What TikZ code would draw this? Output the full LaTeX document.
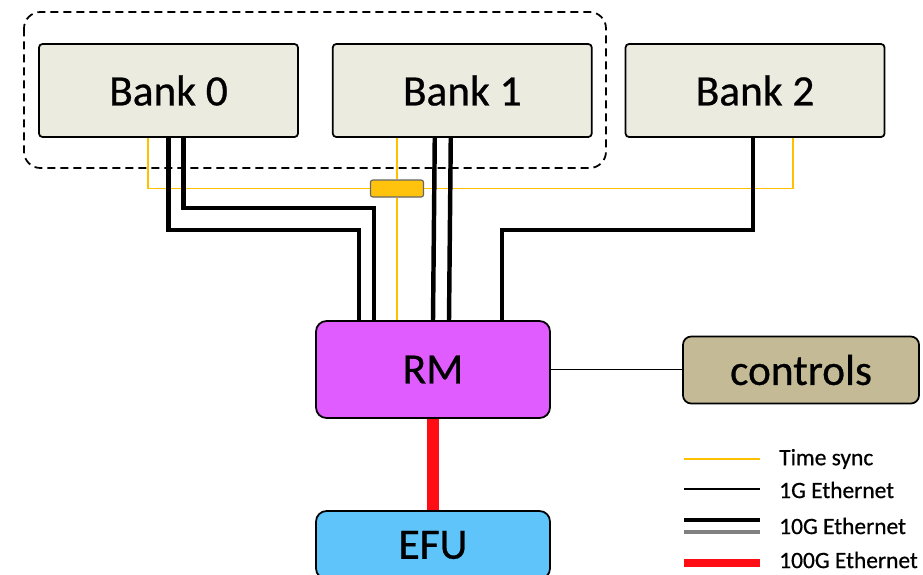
\documentclass[tikz,border=0pt]{standalone}
\usepackage{fontspec}
\setmainfont{Carlito}[FakeBold=0.6]
\usetikzlibrary{positioning,fit,calc}
\usetikzlibrary{arrows.meta}

\definecolor{bankfill}{HTML}{ECEBE0}
\definecolor{rmfill}{HTML}{E05CFF}
\definecolor{efufill}{HTML}{5EC4FA}
\definecolor{ctrlfill}{HTML}{C4BB96}
\definecolor{syncyellow}{HTML}{FFC000}
\definecolor{hundredred}{HTML}{FF0D14}
\tikzset{bank/.style={draw,line width=1.5pt,fill=bankfill,rounded corners=3pt,
            minimum width=7.77cm,minimum height=2.79cm,font=\fontsize{37}{40}\selectfont}}
\tikzset{unit/.style={draw,line width=1.5pt,rounded corners=9pt,
            minimum width=7.02cm,minimum height=2.91cm,font=\fontsize{37}{40}\selectfont}}
\tikzset{sync/.style={syncyellow,line width=1.4pt}}
\tikzset{oneG/.style={black,line width=1.2pt}}
\tikzset{tenG/.style={black,line width=3.8pt,line join=miter}}
\tikzset{hundredG/.style={hundredred,line width=9.5pt}}
\tikzset{legtext/.style={anchor=west,inner sep=0pt,font=\fontsize{20}{22}\selectfont}}

\begin{document}
\begin{tikzpicture}[x=0.03cm,y=-0.03cm]
   \useasboundingbox (0,0) rectangle (923,574);
   \begin{scope}
      \clip (0,0) rectangle (923,574);

      % banks
      \node[bank] (b0) at (168.5,90.5) {Bank 0};
      \node[bank,right=0.99cm of b0] (b1) {Bank 1};
      \node[bank,right=0.96cm of b1] (b2) {Bank 2};
      \draw[dashed,line width=1.5pt,dash pattern=on 0.24cm off 0.15cm,rounded corners=14pt]
         (24,12) rectangle (606,168);

      \node[unit,fill=rmfill] (rm) at (433,369.5) {RM};
      \node[unit,fill=efufill,minimum height=2.04cm] (efu) at (433,545) {EFU};
      \node[unit,fill=ctrlfill,rounded corners=7pt,minimum width=7.08cm,minimum height=2.01cm] (ctrl) at (801,370) {controls};

      % time sync
      \node[draw=black!60,line width=1pt,fill=syncyellow!95!white,rounded corners=2pt,
            minimum width=1.59cm,minimum height=0.51cm,inner sep=0pt] (sw) at (397,188.5) {};
      \draw[sync] ($(b0.south)+(-20.5,0)$) |- (sw.west);
      \draw[sync] (sw.east) -| ($(b2.south)+(38,0)$);
      \draw[sync] (b1.south -| sw.north) -- (sw.north);
      \draw[sync] (sw.south) -- (sw.south |- rm.north);

      % 10G links
      \draw[tenG] (b0.south) -- ++(0,92) -| ($(rm.north)+(-74,0)$);
      \draw[tenG] ($(b0.south)+(15,0)$) -- ++(0,70) -| ($(rm.north)+(-59,0)$);
      \draw[tenG] ($(b1.south)+(-27.5,0)$) -- (rm.north);
      \draw[tenG] ($(b1.south)+(-11.5,0)$) -- ($(rm.north)+(16,0)$);
      \draw[tenG] ($(b2.south)+(-2,0)$) -- ++(0,92) -| ($(rm.north)+(69,0)$);

      % 1G and 100G
      \draw[oneG] (rm.east) -- (rm.east -| ctrl.west);
      \draw[hundredG] (rm.south) -- (efu.north);

      % legend
      \node[legtext] (l0) at (779,459) {Time sync};
      \node[legtext] (l1) at (779,490) {1G Ethernet};
      \node[legtext] (l2) at (779,526) {10G Ethernet};
      \node[legtext] (l3) at (779,560) {100G Ethernet};
      \draw[sync] ($(l0.west)+(-95,0)$) -- ++(76,0);
      \draw[oneG] ($(l1.west)+(-95,-1)$) -- ++(76,0);
      \draw[black,line width=3.4pt] ($(l2.west)+(-95,-6)$) -- ++(76,0);
      \draw[gray,line width=3.4pt] ($(l2.west)+(-95,6)$) -- ++(76,0);
      \draw[hundredred,line width=6pt] ($(l3.west)+(-95,3)$) -- ++(76,0);
   \end{scope}
\end{tikzpicture}
\end{document}
